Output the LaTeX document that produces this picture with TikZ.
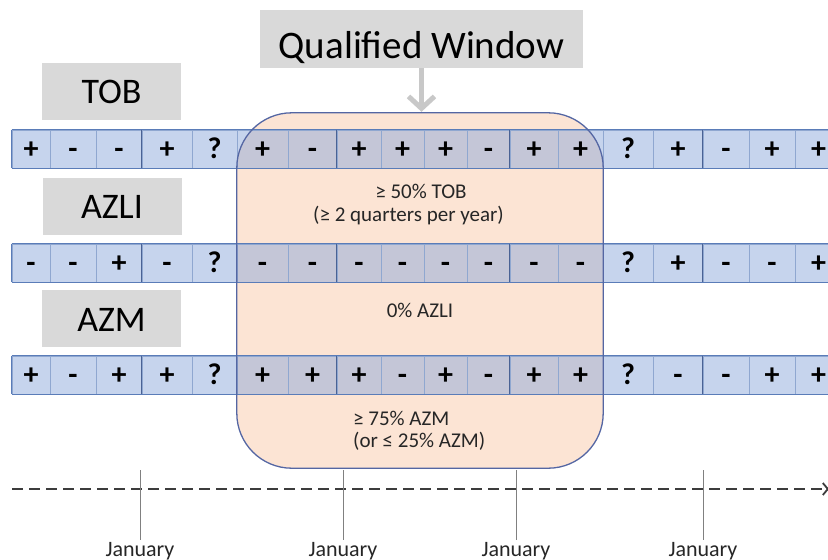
\documentclass[tikz,border=0pt]{standalone}
\usepackage{fontspec}
\setmainfont{Carlito}
\usetikzlibrary{arrows.meta}

\definecolor{cellblue}{HTML}{8EAADB}
\definecolor{gridthin}{HTML}{8FA7D0}
\definecolor{gridthick}{HTML}{4A6294}
\definecolor{edgeblue}{HTML}{5A7CB8}
\definecolor{peach}{HTML}{FCE4D4}
\definecolor{winedge}{HTML}{5466A3}
\definecolor{labelgray}{HTML}{D9D9D9}
\definecolor{arrowgray}{HTML}{C8C8C8}
\definecolor{tickgray}{HTML}{808080}
\definecolor{timeline}{HTML}{3C3C3C}

\begin{document}
\begin{tikzpicture}[x=1pt, y=-1pt,
  labelbox/.style={fill=labelgray, inner sep=0pt, minimum width=139pt,
    minimum height=57pt, text height=24pt, text depth=0pt,
    font=\fontsize{36}{40}\selectfont},
  cell/.style={fill=cellblue, fill opacity=0.5, text opacity=1,
    draw=gridthin, line width=0.8pt, inner sep=0pt, minimum height=38pt,
    text height=19pt, text depth=0pt, font=\bfseries\fontsize{30}{32}\selectfont},
  yearline/.style={gridthick, line width=1.5pt},
  rowline/.style={edgeblue, line width=1.2pt},
  rule/.style={anchor=base, inner sep=0pt, font=\fontsize{21}{25}\selectfont, text=black!85},
  month/.style={anchor=base, inner sep=0pt, font=\fontsize{22}{26}\selectfont, text=black!85},
  tick/.style={tickgray, line width=0.9pt}
]
\useasboundingbox (0,0) rectangle (828,560);
\clip (0,0) rectangle (828,560);

% qualified window (fill only; outline drawn after the rows)
\node[fill=peach, rounded corners=55pt, minimum width=366pt, minimum height=355pt,
      inner sep=0pt] (window) at (420,290.5) {};

% the three quarterly rows
\foreach \l/\r/\a/\b/\c [count=\i] in {
   12/50/+/-/+,   50/96/-/-/-,   96/142/-/+/+,  142/192/+/-/+,
  192/237/?/?/?, 237/288/+/-/+, 288/337/-/-/+,  337/381/+/-/+,
  381/424/+/-/-, 424/467/+/-/+, 467/510/-/-/-,  510/558/+/-/+,
  558/603/+/-/+, 603/653/?/?/?, 653/703/+/+/-,  703/749/-/-/-,
  749/795/+/-/+, 795/842/+/+/+} {
  \pgfmathsetmacro\w{\r-\l}
  \pgfmathsetmacro\m{(\l+\r)/2}
  \node[cell, minimum width=\w pt] (tob\i)  at (\m,149) {\a};
  \node[cell, minimum width=\w pt] (azli\i) at (\m,263) {\b};
  \node[cell, minimum width=\w pt] (azm\i)  at (\m,375) {\c};
}

% row outlines and year boundaries
\foreach \row in {tob,azli,azm} {
  \draw[rowline] (\row1.north west) -- (\row18.north east);
  \draw[rowline] (\row1.south west) -- (\row18.south east);
  \draw[rowline] (\row1.north west) -- (\row1.south west);
  \foreach \i in {4,8,12,16}
    \draw[yearline] (\row\i.north west) -- (\row\i.south west);
}

% window outline
\draw[winedge, line width=1.3pt, rounded corners=55pt]
  (window.north west) rectangle (window.south east);

% titles
\node[labelbox, minimum width=323pt, minimum height=58pt, text height=38pt,
      font=\fontsize{39}{44}\selectfont] (title) at (421.5,39) {Qualified Window};
\node[labelbox] (toblabel)  at (111.5,91.5)  {TOB};
\node[labelbox] (azlilabel) at (112,206.5)   {AZLI};
\node[labelbox, text height=26pt] (azmlabel) at (111.5,318.5) {AZM};

\draw[arrowgray, line width=5pt, shorten >=1pt,
      -{Straight Barb[length=12pt, width=26pt]}]
  (title.south) -- (title.south |- window.north);

% criteria inside the window
\node[rule] (tobrule)  at (421,198)   {≥ 50\% TOB};
\node[rule] (tobnote)  at (408.5,221) {(≥ 2 quarters per year)};
\node[rule] (azlirule) at (420,317)   {0\% AZLI};
\node[rule, anchor=base west] (azmrule) at (353,425) {≥ 75\% AZM};
\node[rule, anchor=base west] (azmnote) at (353,447) {(or ≤ 25\% AZM)};

% time axis
\coordinate (tl-start) at (12,489);
\coordinate (tl-end) at (829,489);
\draw[timeline, line width=1.8pt, dash pattern=on 11pt off 6pt,
      -{Straight Barb[length=5pt, width=12pt]}] (tl-start) -- (tl-end);

\foreach \x/\n in {140/1,343/2,516/3,703/4} {
  \coordinate (tick\n-top) at (\x,470);
  \coordinate (tick\n-bot) at (\x,540);
  \draw[tick] (tick\n-top) -- (tick\n-bot);
  \node[month] (jan\n) at (\x,556) {January};
}
\end{tikzpicture}
\end{document}
